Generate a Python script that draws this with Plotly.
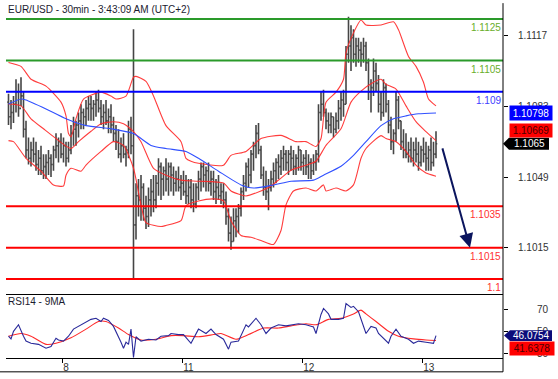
import plotly.graph_objects as go

# ---------------- data (prices given in pips above 1.1000) ----------------
BASE = 1.1
bar_high = [89,86,88,96,94,97,90,76,68,66,68,66,62,64,60,60,62,60,64,70,68,70,68,66,66,74,78,76,80,84,
            82,86,88,88,86,90,91,86,84,86,82,84,78,74,72,68,70,64,76,78,120,46,48,50,46,40,44,48,50,50,
            58,56,54,58,56,56,54,52,54,50,52,50,48,48,46,46,52,56,56,54,56,52,52,48,50,46,46,42,34,30,
            34,34,36,44,50,56,58,62,66,74,75,64,54,52,48,52,56,58,60,62,64,62,62,64,62,60,64,62,60,62,
            60,58,60,62,84,90,91,82,80,80,78,80,86,90,91,112,126,122,120,116,116,114,116,114,106,96,106,104,98,90,
            96,94,86,78,72,90,88,76,72,70,66,68,66,68,66,64,68,66,64,68,66,71]
bar_low = [74,72,75,80,78,83,68,58,55,54,56,52,50,50,48,48,50,49,52,58,56,58,56,54,56,60,64,64,68,72,
           72,74,76,76,76,78,80,74,72,74,70,70,66,62,58,56,58,54,58,60,0,19,30,28,28,24,25,30,32,34,
           40,38,40,42,40,42,40,42,42,38,40,36,36,34,32,34,38,42,44,42,42,40,38,36,38,36,34,26,18,14,
           18,20,22,30,38,42,44,46,52,58,60,48,40,38,33,42,44,46,48,50,52,52,50,52,50,50,52,52,50,50,
           48,48,50,52,56,76,78,72,70,70,68,70,72,76,78,84,104,100,104,102,104,102,104,100,86,80,88,90,80,76,
           78,80,70,62,60,66,72,62,58,58,56,56,54,56,52,54,56,52,52,52,54,58]
bar_open = [85,78,80,84,90,82,88,72,62,58,62,60,55,58,52,54,56,58,55,62,64,66,60,64,58,62,70,72,74,76,
            80,78,82,84,82,84,86,82,78,80,76,78,74,70,66,60,64,60,62,72,64,26,40,38,44,34,30,38,42,38,
            46,54,48,52,48,54,50,46,48,44,46,42,40,44,38,36,44,48,54,50,52,46,48,42,44,40,42,38,30,22,
            18,28,30,34,42,46,54,50,60,64,70,62,50,44,42,44,48,52,56,54,58,60,56,60,58,54,58,62,56,58,
            54,56,52,56,60,80,84,80,76,74,78,72,76,82,86,84,108,112,116,108,112,110,108,112,104,90,92,100,94,84,
            80,92,84,74,66,70,86,76,66,62,60,62,58,62,60,56,62,60,58,62,56,60]
bar_close = [78,80,84,90,82,88,72,62,58,62,60,55,58,52,54,56,58,55,62,64,66,60,64,58,62,70,72,74,76,80,
             78,82,84,82,84,86,82,78,80,76,78,74,70,66,60,64,60,62,72,64,26,40,38,44,34,30,38,42,38,46,
             54,48,52,48,54,50,46,48,44,46,42,40,44,38,36,44,48,54,50,52,46,48,42,44,40,42,38,30,22,18,
             28,30,34,42,46,54,50,60,64,70,62,50,44,42,44,48,52,56,54,58,60,56,60,58,54,58,62,56,58,54,
             56,52,56,60,80,84,80,76,74,78,72,76,82,86,84,108,112,116,108,112,110,108,112,104,90,92,100,94,84,80,
             92,84,74,66,70,86,76,66,62,60,62,58,62,60,56,62,60,58,62,56,60,65]

bb_upper_x = [0,5,9,15,21,23,24,25,27,30,37,41,43,47,50,51,55,58,63,69,71,73,76,86,89,95,101,109,115,119,
              123,125,127,131,134,135,138,141,143,149,154,156,160,163,166,168,171]
bb_upper = [104.1,102.2,96,92.7,85,78.4,69.9,68.4,77,86.5,89.8,87.9,86.5,87.9,97,97.4,95,88,73.7,66,
            58,56.6,55.6,54.7,59.4,61.3,67.5,69,66,66,63.7,67.5,85,89.8,96,108.8,118.3,124.5,122.1,122.1,
            123.6,119.8,107,102.2,94.6,86.5,83.2]
bb_mid_x = [0,5,9,14,19,25,28,33,37,42,46,50,53,58,63,69,76,86,89,95,101,105,109,113,119,123,127,133,137,141,
            146,149,151,155,159,163,167,171]
bb_mid = [84.1,83.2,77,72.2,67.5,62.7,66,71,74.6,75.6,74.6,70.8,66,53.2,49.9,47.5,47,46.1,42.3,39.9,
          42.3,44.7,48.5,52.3,54.7,56.6,64.2,72.2,85,90.3,94.6,96,93.6,91.3,83.2,75.6,70.8,66.5]
bb_lower_x = [0,2,7,13,18,22,23,25,29,31,37,42,46,50,53,55,61,63,69,71,76,82,86,89,93,97,101,106,109,111,
              114,119,123,126,127,131,135,138,141,143,149,151,155,159,163,167,171]
bb_lower = [66.5,66,58,51.8,45.2,44.7,49.9,53.2,51.8,54.7,61.3,66,64.2,53.2,35.6,27.1,25.2,25.7,28,35.2,
            37.5,38.5,37.5,28,20.9,20,18.5,16.6,23.3,35.6,42.3,43.7,42.3,45.2,42.3,43.7,42.3,45.2,58,62.7,
            68.9,67.5,66,61.3,54.7,50.9,49.4]
ma_x = [0,5,7,15,23,31,41,50,57,63,71,76,84,93,98,106,113,122,126,133,138,143,149,154,159,164,171]
ma_val = [84.1,86.5,86,81.7,77,73.7,72.2,69.9,64.2,62.7,61.3,58,51.8,45.2,43.7,45.2,47,47.5,49.9,54.2,
          59.4,66,73.7,77,78.4,79.4,79.8]

rsi_x = [0,1,2,4,6,7,9,12,15,17,19,20,22,24,26,29,31,33,35,37,38,40,42,44,45,46,47,48,49,50,
         51,53,56,59,61,64,65,68,70,73,76,79,81,83,86,88,89,92,95,96,99,101,103,105,108,111,113,116,119,122,
         123,125,126,128,129,132,134,135,137,138,140,141,143,145,147,148,149,152,153,155,157,160,162,164,167,170,171]
rsi_val = [45.5,43,50,56,45.5,41,39,38,34.5,36,43.6,42,41,45.5,52,56,59,61,62,59,62,60,54.5,45.5,40,34.5,40,38,52,26,
           45,41,42.7,42,45.5,46,48,47,47,39,52,48,52,47,42.7,33.6,40,41,56,54,62,56,48,53,56,55,56,57,56,54,
           48,65.5,71,66,61,61,62,75.5,72,73,68,61,48,54.5,53,48,45.5,39,45.5,52,45.5,42.7,39,41,40,39,46]
rsi_ma_x = [0,5,9,15,19,25,31,36,39,44,48,53,59,65,70,76,82,85,91,96,102,108,113,119,123,128,133,138,141,143,
            147,152,156,162,167,171]
rsi_ma = [45.5,48,45.5,38,39,44,52,59,59,53,47,42,42.7,46,46,45,47,48,42.7,47,53,53,55,57,56,61,62,66,69.5,66,
          59,50,45.5,43,42,41.6]

levels_green = [1.1125, 1.1105]
levels_blue = [1.109]
levels_red = [1.1035, 1.1015, 1.1]
level_texts = {1.1125: "1.1125", 1.1105: "1.1105", 1.109: "1.109", 1.1035: "1.1035", 1.1015: "1.1015", 1.1: "1.1"}

price_ticks = [1.1015, 1.1049, 1.1083, 1.1117]
price_tick_text = ["1.1015", "1.1049", "1.1083", "1.1117"]
rsi_ticks = [30, 50, 70]
day_ticks = [21.5, 69.5, 117.5, 165.5]
day_labels = ["8", "11", "12", "13"]

last_ma, last_mid, last_close = 1.10798, 1.10669, 1.1065
last_rsi, last_rsi_ma = 46.0754, 41.6378
target_price = 1.1015

# ---------------- helpers ----------------
P = lambda seq: [BASE + v / 10000.0 for v in seq]
FONT = "Liberation Sans, Arial, sans-serif"
W, H = 558, 379
ML, MR, MT, MB = 6, 55, 14, 17
PW, PH = W - ML - MR, H - MT - MB
px2paperx = lambda px: (px - ML) / PW
py2papery = lambda py: (H - MB - py) / PH
SPLIT = py2papery(298)
Y1 = [1.099240, 1.112738]
Y2 = [25.45, 83.64]
val2paper1 = lambda v: SPLIT + (v - Y1[0]) / (Y1[1] - Y1[0]) * (1 - SPLIT)
val2paper2 = lambda v: (v - Y2[0]) / (Y2[1] - Y2[0]) * SPLIT

fig = go.Figure()

fig.add_trace(go.Ohlc(
    x=list(range(len(bar_close))), open=P(bar_open), high=P(bar_high), low=P(bar_low), close=P(bar_close),
    increasing=dict(line=dict(color="#454545", width=1.6)),
    decreasing=dict(line=dict(color="#454545", width=1.6)),
    tickwidth=0.5, xaxis="x", yaxis="y", hoverinfo="skip", showlegend=False))

band_col = "rgba(255,40,40,0.9)"
for xs, ys in [(bb_upper_x, bb_upper), (bb_mid_x, bb_mid), (bb_lower_x, bb_lower)]:
    fig.add_trace(go.Scatter(x=xs, y=P(ys), mode="lines", line=dict(color=band_col, width=1.1, shape="spline", smoothing=0.6),
                             xaxis="x", yaxis="y", showlegend=False, hoverinfo="skip"))
fig.add_trace(go.Scatter(x=ma_x, y=P(ma_val), mode="lines", line=dict(color="#3050ff", width=1.1, shape="spline", smoothing=0.6),
                         xaxis="x", yaxis="y", showlegend=False, hoverinfo="skip"))

fig.add_trace(go.Scatter(x=rsi_ma_x, y=rsi_ma, mode="lines", line=dict(color="#ff2a2a", width=1.1, shape="spline", smoothing=0.6),
                         xaxis="x2", yaxis="y2", showlegend=False, hoverinfo="skip"))
fig.add_trace(go.Scatter(x=rsi_x, y=rsi_val, mode="lines", line=dict(color="#2a2a9a", width=1.1),
                         xaxis="x2", yaxis="y2", showlegend=False, hoverinfo="skip"))

shapes = []
annots = []
for lv, col, tcol in ([(v, "#2a9a2a", "#6aae2a") for v in levels_green] +
                      [(v, "#0000ff", "#4040ff") for v in levels_blue] +
                      [(v, "#ff0000", "#ff3030") for v in levels_red]):
    shapes.append(dict(type="line", xref="paper", yref="y", x0=0, x1=1, y0=lv, y1=lv,
                       line=dict(color=col, width=2), layer="above"))
    annots.append(dict(xref="paper", yref="y", x=1, y=lv, xanchor="right", yanchor="top", yshift=-1,
                       text=level_texts[lv], showarrow=False, font=dict(family=FONT, size=10, color=tcol)))

# outer frame lines
shapes.append(dict(type="line", xref="paper", yref="paper", x0=1, x1=1, y0=py2papery(376), y1=py2papery(3),
                   line=dict(color="#000", width=1)))
shapes.append(dict(type="line", xref="paper", yref="paper", x0=px2paperx(0), x1=1, y0=py2papery(376), y1=py2papery(376),
                   line=dict(color="#000", width=1)))

# pointer boxes (paper coordinates so they are not clipped to the plot area)
def pointer(cy, hh, tip_px, notch_px, right_px, fill):
    xt, xn, xr_ = px2paperx(tip_px), px2paperx(notch_px), px2paperx(right_px)
    return dict(type="path", xref="paper", yref="paper",
                path=(f"M {xt},{cy} L {xn},{cy + hh} L {xr_},{cy + hh} "
                      f"L {xr_},{cy - hh} L {xn},{cy - hh} Z"),
                fillcolor=fill, line=dict(width=0), layer="above")

shapes.append(pointer(val2paper1(last_close), 6 / PH, 503, 509, 549, "#000000"))
shapes.append(pointer(val2paper2(last_rsi), 5.5 / PH, 504, 510, 552, "#0c0c7a"))

box_font = dict(family=FONT, size=10, color="#ffffff")
red_font = dict(family=FONT, size=10, color="#4a0000")
C = dict(xanchor="center", yanchor="middle", showarrow=False)
annots += [
    dict(xref="paper", yref="y", x=px2paperx(530.5), y=last_ma, text=f"{last_ma:.5f}",
         bgcolor="#0000ff", font=box_font, width=40, height=12, borderpad=1, **C),
    dict(xref="paper", yref="y", x=px2paperx(530.5), y=last_mid, yshift=9, text=f"{last_mid:.5f}",
         bgcolor="#ff0000", font=red_font, width=40, height=11, borderpad=1, **C),
    dict(xref="paper", yref="paper", x=px2paperx(529.5), y=val2paper1(last_close), text=f"{last_close:.4f}",
         font=box_font, **C),
    dict(xref="paper", yref="paper", x=px2paperx(531.5), y=val2paper2(last_rsi), text=f"{last_rsi:.4f}",
         font=box_font, **C),
    dict(xref="paper", yref="paper", x=px2paperx(531.5), y=val2paper2(last_rsi_ma), yshift=-8,
         text=f"{last_rsi_ma:.4f}", bgcolor="#ff0000", font=red_font, width=42, height=11, borderpad=1, **C),
    # projection arrow
    dict(xref="x", yref="y", x=184.6, y=target_price, axref="x", ayref="y", ax=173.4, ay=bar_close[-1] / 10000 + BASE - 0.00015,
         text="", showarrow=True, arrowhead=2, arrowsize=1.4, arrowwidth=2, arrowcolor="#0b155e", standoff=0),
    # titles
    dict(xref="paper", yref="paper", x=0, y=py2papery(9), xanchor="left", yanchor="middle",
         text="EUR/USD - 30min - 3:43:09 AM (UTC+2)", showarrow=False,
         font=dict(family=FONT, size=10, color="#1c1c30")),
    dict(xref="paper", yref="paper", x=0, y=py2papery(305), xanchor="left", yanchor="middle",
         text="RSI14 - 9MA", showarrow=False, font=dict(family=FONT, size=10, color="#1c1c30")),
]

xr = [(ML - 8.5) / 2.5, (ML + PW - 8.5) / 2.5]
fig.update_layout(
    width=W, height=H, autosize=False,
    margin=dict(l=ML, r=MR, t=MT, b=MB),
    paper_bgcolor="white", plot_bgcolor="white",
    showlegend=False,
    xaxis=dict(domain=[0, 1], anchor="y", range=xr, showticklabels=False, showgrid=False, zeroline=False,
               showline=False, ticks="", rangeslider=dict(visible=False), fixedrange=True),
    yaxis=dict(domain=[SPLIT, 1], anchor="x", side="right", range=Y1,
               tickvals=price_ticks, ticktext=price_tick_text, ticks="outside", ticklen=4, tickcolor="#000",
               showgrid=False, zeroline=False, showline=False, ticklabelstandoff=8,
               tickfont=dict(family=FONT, size=10, color="#333333")),
    xaxis2=dict(domain=[0, 1], anchor="y2", range=xr, tickvals=day_ticks, ticktext=day_labels,
                ticks="outside", ticklen=4, tickcolor="#000", showline=True, mirror=True, linecolor="#000",
                linewidth=1, showgrid=False, zeroline=False, ticklabelposition="outside right",
                tickfont=dict(family=FONT, size=10, color="#333333")),
    yaxis2=dict(domain=[0, SPLIT], anchor="x2", side="right", range=Y2, tickvals=rsi_ticks,
                ticks="outside", ticklen=4, tickcolor="#000", showgrid=False, zeroline=False, showline=False,
                ticklabelstandoff=27, tickfont=dict(family=FONT, size=10, color="#333333")),
    shapes=shapes, annotations=annots,
)

fig.write_html("out.html", config={"displayModeBar": False},
               post_script="document.body.style.margin='0px';")
